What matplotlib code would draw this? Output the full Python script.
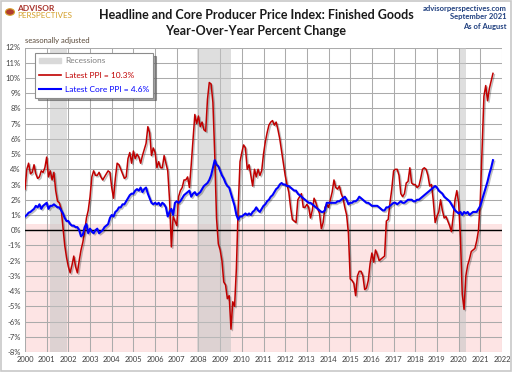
#!/usr/bin/env python3
"""Headline and core PPI (finished goods), year-over-year percent change."""
import matplotlib

matplotlib.use("Agg")
import matplotlib.pyplot as plt
import matplotlib.patheffects as pe
from matplotlib.lines import Line2D
from matplotlib.patches import Patch, Rectangle, Circle
import numpy as np

# monthly YoY %, Jan 2000 .. Aug 2021
ppi = [
    2.7, 4.0, 4.4, 3.7, 3.8, 4.3, 3.7, 3.4, 3.5, 3.9, 3.8, 4.1,  # 2000
    4.8, 3.5, 3.9, 3.3, 3.8, 2.6, 1.9, 1.8, 1.4, 0.2, -1.0, -1.8,  # 2001
    -2.4, -2.8, -2.3, -1.7, -2.4, -2.8, -2.0, -1.3, -0.8, -0.1, 0.8, 1.3,  # 2002
    2.2, 3.5, 3.9, 3.6, 3.6, 3.8, 3.5, 3.3, 3.5, 3.7, 3.9, 3.8,  # 2003
    2.8, 2.1, 3.4, 4.4, 4.3, 4.0, 3.7, 3.4, 3.5, 4.7, 5.1, 4.4,  # 2004
    5.2, 4.7, 5.0, 4.8, 4.4, 4.9, 5.3, 5.7, 6.8, 6.4, 4.9, 5.4,  # 2005
    5.1, 4.1, 4.5, 4.1, 4.1, 4.9, 4.4, 3.9, 2.0, -1.1, 0.9, 0.6,  # 2006
    0.3, 2.2, 2.6, 2.8, 3.3, 3.3, 3.5, 2.8, 4.3, 6.0, 7.6, 7.0,  # 2007
    7.5, 6.8, 7.1, 6.6, 6.5, 8.6, 9.7, 9.6, 8.4, 5.0, 0.8, -0.9,  # 2008
    -1.3, -2.0, -3.4, -3.6, -4.5, -4.3, -6.5, -4.7, -5.0, -2.5, 1.5, 4.5,  # 2009
    5.1, 5.6, 5.4, 4.0, 4.3, 3.6, 2.9, 4.0, 3.5, 4.0, 3.6, 3.9,  # 2010
    5.0, 5.8, 6.4, 6.9, 7.1, 7.2, 6.9, 7.1, 6.6, 6.0, 5.2, 4.4,  # 2011
    3.6, 3.0, 2.5, 1.5, 0.7, 0.6, 0.5, 2.0, 2.2, 2.4, 1.5, 1.5,  # 2012
    1.7, 1.5, 0.8, 1.3, 2.1, 1.8, 1.4, 1.1, 0.1, 0.5, 1.5, 1.7,  # 2013
    1.5, 2.0, 2.5, 3.3, 2.8, 2.7, 2.9, 2.4, 2.1, 1.5, 1.0, -0.2,  # 2014
    -3.2, -3.3, -3.5, -4.3, -3.0, -2.7, -2.7, -3.0, -3.9, -3.8, -3.3, -2.2,  # 2015
    -1.5, -2.1, -1.3, -1.6, -2.0, -1.9, -1.8, -1.7, 0.6, 0.7, 1.8, 2.7,  # 2016
    3.9, 4.0, 4.0, 3.6, 2.4, 2.2, 2.4, 3.1, 3.2, 4.1, 3.1, 3.0,  # 2017
    3.0, 2.8, 2.9, 3.4, 4.0, 4.1, 4.0, 3.6, 2.9, 3.0, 1.9, 0.5,  # 2018
    0.9, 1.2, 2.0, 1.3, 0.8, 0.9, 0.6, 0.3, -0.1, 0.9, 2.0, 2.6,  # 2019
    1.8, -0.5, -4.2, -5.2, -3.0, -2.3, -1.9, -1.4, -1.3, -1.2, -0.7, 0.0,  # 2020
    2.0, 5.3, 8.8, 9.5, 8.5, 9.3, 9.8, 10.3,  # 2021
]
core = [
    0.9, 1.0, 1.15, 1.2, 1.3, 1.4, 1.6, 1.5, 1.7, 1.4, 1.6, 1.7,  # 2000
    1.8, 1.4, 1.6, 1.6, 1.7, 1.6, 1.5, 1.5, 1.3, 1.1, 0.8, 0.6,  # 2001
    0.6, 0.4, 0.3, 0.3, 0.2, 0.2, 0.0, -0.4, -0.3, 0.2, 0.4, -0.2,  # 2002
    0.1, -0.1, -0.2, 0.0, 0.1, -0.2, -0.1, 0.0, 0.2, 0.3, 0.4, 0.8,  # 2003
    1.0, 0.9, 1.2, 1.3, 1.5, 1.5, 1.7, 1.7, 1.9, 2.1, 2.3, 2.4,  # 2004
    2.4, 2.6, 2.7, 2.6, 2.8, 2.5, 2.7, 2.8, 2.4, 2.1, 1.8, 1.7,  # 2005
    1.8, 1.7, 1.8, 1.6, 1.8, 1.7, 1.5, 0.9, 1.2, 1.4, 1.0, 1.8,  # 2006
    1.9, 1.8, 1.9, 2.1, 2.3, 2.4, 2.5, 2.6, 2.2, 2.4, 2.5, 2.3,  # 2007
    2.4, 2.5, 2.7, 2.9, 3.0, 3.1, 3.3, 3.6, 4.1, 4.6, 4.3, 4.2,  # 2008
    3.9, 3.6, 3.4, 3.1, 2.9, 2.8, 2.4, 2.0, 1.6, 1.0, 0.7, 0.9,  # 2009
    0.9, 1.0, 1.1, 1.0, 1.1, 1.0, 1.2, 1.3, 1.5, 1.3, 1.2, 1.4,  # 2010
    1.6, 1.7, 1.9, 2.0, 2.2, 2.3, 2.5, 2.7, 2.8, 3.0, 3.1, 3.0,  # 2011
    3.0, 2.9, 2.9, 2.8, 2.7, 2.6, 2.6, 2.4, 2.3, 2.2, 2.1, 2.0,  # 2012
    1.9, 1.8, 1.8, 1.7, 1.6, 1.5, 1.4, 1.3, 1.2, 1.2, 1.3, 1.8,  # 2013
    1.8, 1.8, 1.8, 1.8, 1.8, 1.9, 1.9, 2.0, 2.1, 2.2, 2.0, 1.7,  # 2014
    1.8, 1.8, 1.9, 1.9, 2.0, 2.2, 2.1, 2.0, 1.9, 1.8, 1.8, 1.7,  # 2015
    1.6, 1.6, 1.6, 1.6, 1.5, 1.4, 1.3, 1.3, 1.5, 1.5, 1.6, 1.7,  # 2016
    1.8, 1.8, 1.7, 1.8, 1.9, 1.8, 1.8, 1.9, 2.0, 2.0, 2.0, 1.9,  # 2017
    1.9, 2.0, 2.0, 2.1, 2.2, 2.3, 2.4, 2.5, 2.6, 2.7, 2.8, 2.9,  # 2018
    2.8, 2.6, 2.5, 2.4, 2.2, 2.1, 2.0, 1.9, 1.7, 1.5, 1.3, 1.2,  # 2019
    1.1, 1.2, 1.0, 1.2, 1.1, 1.2, 1.0, 1.1, 1.2, 1.2, 1.2, 1.4,  # 2020
    1.6, 2.0, 2.4, 2.8, 3.2, 3.7, 4.1, 4.6,  # 2021
]
recessions = [(2001.17, 2001.92), (2007.92, 2009.5), (2020.08, 2020.33)]
years = list(range(2000, 2023))
pct_ticks = list(range(-8, 13))

RED = "#c00000"
BLUE = "#0000ff"
FONT = ["Lato", "DejaVu Sans"]


def main():
    plt.rcParams["font.family"] = FONT
    t = 2000 + np.arange(len(ppi)) / 12.0

    fig = plt.figure(figsize=(5.12, 3.72), dpi=100)
    ax = fig.add_axes([25 / 512, 1 - 352 / 372, 477 / 512, 304.5 / 372])

    ax.axhspan(-8, 0.4, color="#fde4e4", zorder=0, lw=0)
    for a, b in recessions:
        ax.axvspan(a, b, color="#c4c4c4", alpha=0.55, zorder=1, lw=0)

    ax.set_xlim(2000, 2022)
    ax.set_ylim(-8, 12)
    ax.set_xticks(years)
    ax.set_xticklabels([str(y) for y in years])
    ax.set_yticks(pct_ticks)
    ax.set_yticklabels([f"{v}%" for v in pct_ticks])
    ax.grid(True, color="#ababab", lw=0.75, zorder=2)
    ax.set_axisbelow(True)
    ax.tick_params(length=0, labelsize=5.5, labelcolor="#404040", pad=3)
    for s in ax.spines.values():
        s.set_visible(False)
    ax.axhline(0, color="black", lw=1.0, zorder=3)

    shadow = [pe.SimpleLineShadow(offset=(1, -1), alpha=0.25), pe.Normal()]
    ax.plot(t, ppi, color=RED, lw=1.1, zorder=4, path_effects=shadow)
    ax.plot(t, core, color=BLUE, lw=1.5, zorder=5, path_effects=shadow)

    handles = [
        Patch(color="#d9d9d9"),
        Line2D([], [], color=RED, lw=1.2),
        Line2D([], [], color=BLUE, lw=1.5),
    ]
    labels = ["Recessions", f"Latest PPI = {ppi[-1]}%", f"Latest Core PPI = {core[-1]}%"]
    leg = ax.legend(handles, labels, loc="upper left", bbox_to_anchor=(0.012, 0.995),
                    fontsize=6, labelcolor=["#808080", RED, BLUE], frameon=True,
                    fancybox=False, shadow=True, edgecolor="#8c8c8c",
                    handlelength=2.6, handletextpad=0.5, labelspacing=0.9,
                    borderpad=0.5)
    leg.get_frame().set_linewidth(0.8)

    # titles and notes
    fig.text(0.5, 1 - 15 / 372, "Headline and Core Producer Price Index: Finished Goods",
             ha="center", va="center", fontsize=9, fontweight="bold", color="#1a1a1a")
    fig.text(0.5, 1 - 31 / 372, "Year-Over-Year Percent Change",
             ha="center", va="center", fontsize=9, fontweight="bold", color="#1a1a1a")
    for i, s in enumerate(["advisorperspectives.com", "September 2021", "As of August"]):
        fig.text(507 / 512, 1 - (8 + 9 * i) / 372, s, ha="right", va="center",
                 fontsize=5.5, fontweight="bold", color="#1f3f7f")
    fig.text(25 / 512, 1 - 41 / 372, "seasonally adjusted", ha="left", va="center",
             fontsize=5.5, color="#5a4a3a")

    # logo
    fig.patches.append(Circle((10 / 512, 1 - 12 / 372), 4.5 / 512, transform=fig.transFigure,
                              facecolor="#b03a2e", edgecolor="#d4a02a", lw=0.8))
    fig.text(17 / 512, 1 - 8.5 / 372, "ADVISOR", ha="left", va="center", fontsize=6,
             fontweight="bold", color="#a8322a")
    fig.text(17 / 512, 1 - 15.5 / 372, "PERSPECTIVES", ha="left", va="center",
             fontsize=5.8, color="#d4a02a")

    # outer frame
    fig.patches.append(Rectangle((0.002, 0.003), 0.996, 0.994, transform=fig.transFigure,
                                 fill=False, edgecolor="#c8c8c8", lw=1.2))
    fig.savefig("out.png", dpi=100)


if __name__ == "__main__":
    main()
